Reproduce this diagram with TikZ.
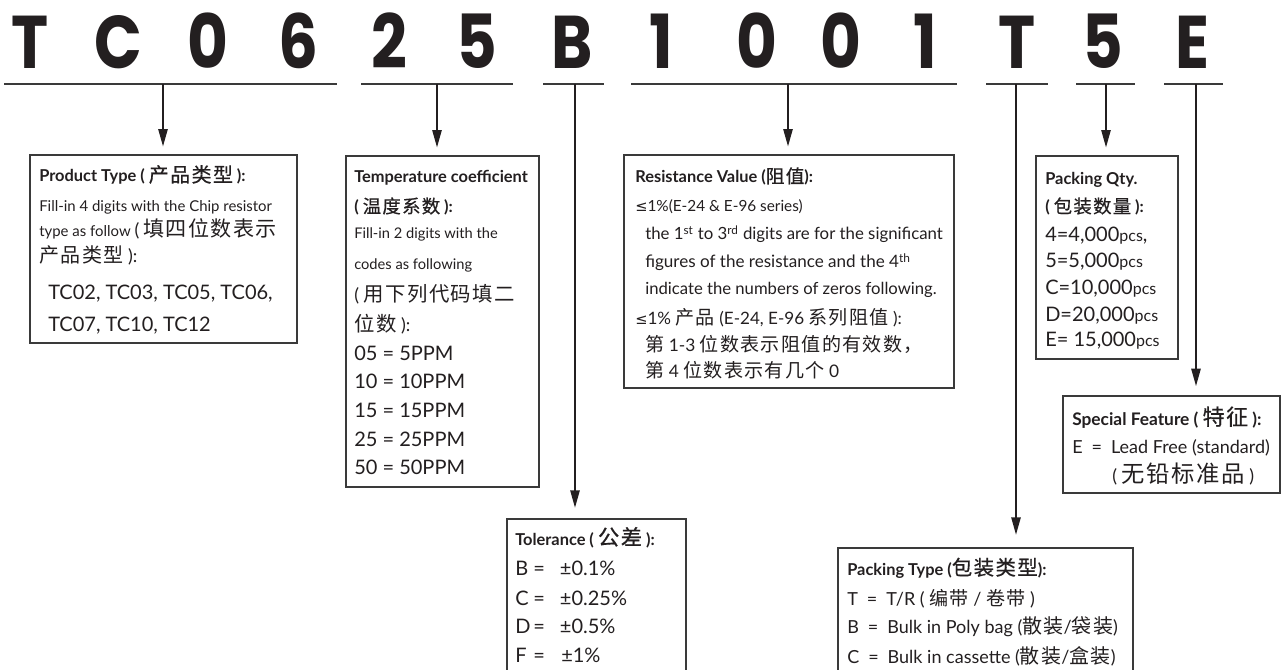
\documentclass[tikz,border=0pt]{standalone}
\usepackage{fontspec}
\usetikzlibrary{arrows.meta,fit}
\setmainfont{Lato}
\newfontfamily\cjk{Noto Sans CJK SC}
\newfontfamily\dvsym{DejaVu Sans}
\newfontfamily\codefont{Poppins}
\definecolor{ink}{HTML}{231F20}
\definecolor{rule}{HTML}{3A3A3A}
\newcommand\fs[1]{\fontsize{#1}{1.2\dimexpr#1\relax}\selectfont}
% CJK body text: optional size, lightly letter-spaced
\newcommand\zh[2][15pt]{{\mdseries\cjk\fs{#1}\addfontfeature{LetterSpace=7}#2}}
% CJK in titles: regular weight made a little heavier
\newcommand\zht[2][15pt]{{\mdseries\cjk\fs{#1}\addfontfeature{LetterSpace=7,FakeBold=0.6}#2}}
\newcommand\lesym{{\dvsym\fontsize{11pt}{13pt}\selectfont ≤}}
\newcommand\cl[1]{\scalebox{0.84}[1]{#1}}
\tikzset{
  txt/.style={anchor=base west, inner sep=0pt, text=ink, font=\fs{13.5pt}},
  sml/.style={txt, font=\fs{11.2pt}},
  dig/.style={txt, font=\fs{15pt}},
  ttl/.style={txt, font=\fs{12.3pt}\bfseries},
  code/.style={anchor=base, inner sep=0pt, text=ink, font=\codefont\bfseries\fontsize{56pt}{60pt}\selectfont},
  uline/.style={draw=rule, line width=1.5pt},
  arr/.style={draw=ink, line width=1.1pt, -{Triangle[length=13pt, width=7pt]}},
  box/.style={draw=rule, line width=0.9pt, inner sep=0pt},
}
\begin{document}
\begin{tikzpicture}[x=0.75pt, y=-0.75pt]
\clip (0,0) rectangle (1282,670);
\fill[white] (0,0) rectangle (1282,670);
% code letters
\node[code] (c1) at (30,69) {\cl{T}};
\node[code] (c2) at (118,69) {\cl{C}};
\node[code] (c3) at (208,69) {\cl{0}};
\node[code] (c4) at (298,69) {\cl{6}};
\node[code] (c5) at (389,69) {\cl{2}};
\node[code] (c6) at (477,69) {\cl{5}};
\node[code] (c7) at (572,69) {\cl{B}};
\node[code] (c8) at (661,69) {\cl{1}};
\node[code] (c9) at (757,69) {\cl{0}};
\node[code] (c10) at (841,69) {\cl{0}};
\node[code] (c11) at (925,69) {\cl{1}};
\node[code] (c12) at (1017,69) {\cl{T}};
\node[code] (c13) at (1103,69) {\cl{5}};
\node[code] (c14) at (1192,69) {\cl{E}};
% underlines
\coordinate (s1a) at (4,84);    \coordinate (s1b) at (337,84);
\coordinate (s2a) at (361,84);  \coordinate (s2b) at (513,84);
\coordinate (s3a) at (543,84);  \coordinate (s3b) at (604,84);
\coordinate (s4a) at (631,84);  \coordinate (s4b) at (957,84);
\coordinate (s5a) at (986,84);  \coordinate (s5b) at (1048,84);
\coordinate (s6a) at (1076,84); \coordinate (s6b) at (1135,84);
\coordinate (s7a) at (1164,84); \coordinate (s7b) at (1223,84);
\foreach \i in {1,...,7} {\draw[uline] (s\i a) -- (s\i b);}
% boxes
\node[box, fit={(30,155) (297,343)}] (b1) {};
\node[box, fit={(346,156) (539,487)}] (b2) {};
\node[box, fit={(624,155) (954,388)}] (b3) {};
\node[box, fit={(1036,156) (1178,359)}] (b4) {};
\node[box, fit={(1063,396) (1280,493)}] (b5) {};
\node[box, fit={(507,519) (686,690)}] (b6) {};
\node[box, fit={(838,548) (1133,690)}] (b7) {};
% arrow origins
\coordinate (u1) at (163,84);
\coordinate (u2) at (437,84);
\coordinate (u3) at (575,84);
\coordinate (u4) at (788,84);
\coordinate (u5) at (1016,84);
\coordinate (u6) at (1106,84);
\coordinate (u7) at (1196,84);
\draw[arr, shorten >=6pt] (u1) -- (u1 |- b1.north);
\draw[arr, shorten >=6pt] (u2) -- (u2 |- b2.north);
\draw[arr, shorten >=8pt] (u3) -- (u3 |- b6.north);
\draw[arr, shorten >=6pt] (u4) -- (u4 |- b3.north);
\draw[arr, shorten >=9.5pt] (u5) -- (u5 |- b7.north);
\draw[arr, shorten >=6pt] (u6) -- (u6 |- b4.north);
\draw[arr, shorten >=7pt] (u7) -- (u7 |- b5.north);
% box 1
\node[ttl] (t11) at (39,182) {Product Type ( \zht[15pt]{产品类型} ):};
\node[sml] (t12) at (39,212) {Fill-in 4 digits with the Chip resistor};
\node[sml] (t13) at (39,237) {type as follow {\fs{13.5pt}(} \zh[15.8pt]{填四位数表示}};
\node[txt] (t14) at (39,263) {\zh[15pt]{产品类型} ):};
\node[dig] (t15) at (48,300) {TC02, TC03, TC05, TC06,};
\node[dig] (t16) at (48,332) {TC07, TC10, TC12};
% box 2
\node[ttl] (t21) at (354,183) {Temperature coefficient};
\node[ttl] (t22) at (354,213) {( \zht[13.8pt]{温度系数} ):};
\node[sml] (t23) at (354,239) {\fs{11pt}Fill-in 2 digits with the};
\node[sml] (t24) at (354,270) {\fs{11pt}codes as following};
\node[txt] (t25) at (354,302) {( \zh[15.3pt]{用下列代码填二}};
\node[txt] (t26) at (354,332) {\zh[15.3pt]{位数} ):};
\node[dig] (t27) at (354,360) {05 = 5PPM};
\node[dig] (t28) at (354,388.5) {10 = 10PPM};
\node[dig] (t29) at (354,417) {15 = 15PPM};
\node[dig] (t2a) at (354,446) {25 = 25PPM};
\node[dig] (t2b) at (354,474.5) {50 = 50PPM};
% box 3
\node[ttl] (t31) at (635,183) {Resistance Value (\zht[14pt]{阻值}):};
\node[txt, font=\fs{11.5pt}] (t32) at (635,212) {\lesym1\%(E-24 \& E-96 series)};
\node[txt, font=\fs{12.6pt}] (t33) at (645,240) {the 1\textsuperscript{st} to 3\textsuperscript{rd} digits are for the significant};
\node[txt, font=\fs{12.8pt}] (t34) at (645,268) {figures of the resistance and the 4\textsuperscript{th}};
\node[txt, font=\fs{12.5pt}] (t35) at (645,295) {indicate the numbers of zeros following.};
\node[txt, font=\fs{12.8pt}] (t36) at (635,325) {\lesym1\% \zh[14.3pt]{产品} (E-24, E-96 \zh[14.3pt]{系列阻值} ):};
\node[txt, font=\fs{13pt}] (t37) at (645,352) {\zh[14.3pt]{第} 1-3 \zh[14.3pt]{位数表示阻值的有效数，}};
\node[txt, font=\fs{13pt}] (t38) at (645,378) {\zh[14.3pt]{第} 4 \zh[14.3pt]{位数表示有几个} 0};
% box 4
\node[ttl] (t41) at (1045,185) {Packing Qty.};
\node[ttl] (t42) at (1045,213) {( \zht[13.8pt]{包装数量} ):};
\node[dig] (t43) at (1045,242) {4=4,000{\fs{12pt}pcs},};
\node[dig] (t44) at (1045,268) {5=5,000{\fs{12pt}pcs}};
\node[dig] (t45) at (1045,295) {C=10,000{\fs{12pt}pcs}};
\node[dig] (t46) at (1045,322) {D=20,000{\fs{12pt}pcs}};
\node[dig] (t47) at (1045,347) {E= 15,000{\fs{12pt}pcs}};
% box 5
\node[ttl] (t51) at (1072,425) {\fs{13pt}Special Feature ( \zht[16.5pt]{特征} ):};
\node[txt] (t52) at (1072,453) {E\enspace=\enspace Lead Free (standard)};
\node[txt] (t53) at (1112,482) {( \zh[17.5pt]{无铅标准品} )};
% box 6
\node[ttl] (t61) at (515,545) {Tolerance ( \zht[16pt]{公差} ):};
\node[dig] (t62) at (515,575) {\makebox[13.5pt][l]{B}\makebox[20pt][l]{=}±0.1\%};
\node[dig] (t63) at (515,605) {\makebox[13.5pt][l]{C}\makebox[20pt][l]{=}±0.25\%};
\node[dig] (t64) at (515,633) {\makebox[13.5pt][l]{D}\makebox[20pt][l]{=}±0.5\%};
\node[dig] (t65) at (515,662) {\makebox[13.5pt][l]{F}\makebox[21pt][l]{=}±1\%};
% box 7
\node[ttl] (t71) at (847,575) {Packing Type (\zht[15.3pt]{包装类型}):};
\node[txt] (t72) at (847,605) {T\enspace=\enspace T/R ( \zh[14.3pt]{编带} / \zh[14.3pt]{卷带} )};
\node[txt] (t73) at (847,633) {B\enspace=\enspace Bulk in Poly bag (\zh[15pt]{散装}/\zh[15pt]{袋装})};
\node[txt] (t74) at (847,663) {C\enspace=\enspace Bulk in cassette (\zh[15pt]{散装}/\zh[15pt]{盒装})};
\end{tikzpicture}
\end{document}
